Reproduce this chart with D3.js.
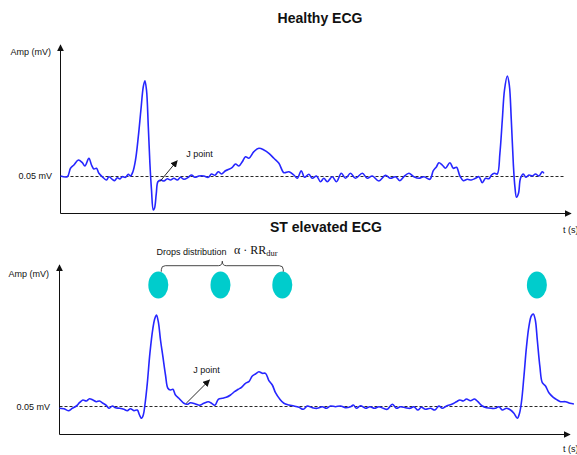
<!DOCTYPE html>
<html>
<head>
<meta charset="utf-8">
<script src="https://cdn.jsdelivr.net/npm/d3@7"></script>
<style>
  html, body { margin: 0; padding: 0; background: #fff; }
  svg { display: block; }
  text { font-family: "Liberation Sans", Arial, Helvetica, sans-serif; fill: #111; }
</style>
</head>
<body>
<script>
// ---------- data ----------
const titles = ["Healthy ECG", "ST elevated ECG"];
const yLabel = "Amp (mV)";
const xLabel = "t (s)";
const baselineValue = 0.05;
const baselineLabel = "0.05 mV";
const jLabel = "J point";
const dropsLabel = "Drops distribution";

// Healthy ECG trace: [time (s), amplitude (mV)]
const healthy = [
  [0,0.05],[0.034,0.043],[0.05,0.127],[0.067,0.16],[0.089,0.21],[0.109,0.183],[0.122,0.15],
  [0.142,0.227],[0.155,0.16],[0.167,0.12],[0.18,0.127],[0.192,0.077],[0.212,0.037],[0.23,0.01],
  [0.242,0.043],[0.259,0.017],[0.27,0.003],[0.284,0.033],[0.297,0.02],[0.309,0.043],[0.325,0.037],
  [0.339,0.067],[0.35,0.05],[0.362,0.093],[0.375,0.21],[0.389,0.443],[0.402,0.71],[0.414,0.943],
  [0.422,1.003],[0.43,0.91],[0.439,0.543],[0.447,0.177],[0.455,-0.09],[0.464,-0.29],[0.47,-0.273],
  [0.479,-0.123],[0.487,-0.007],[0.5,0.01],[0.517,0.0],[0.534,0.023],[0.55,0.01],[0.567,0.027],
  [0.584,0.01],[0.6,0.037],[0.617,0.017],[0.639,0.037],[0.655,0.06],[0.672,0.037],[0.692,0.05],
  [0.717,0.05],[0.739,0.037],[0.755,0.07],[0.772,0.057],[0.789,0.093],[0.805,0.07],[0.825,0.103],
  [0.842,0.117],[0.859,0.137],[0.875,0.17],[0.892,0.15],[0.909,0.193],[0.925,0.243],[0.942,0.227],
  [0.967,0.293],[0.992,0.327],[1.017,0.31],[1.042,0.277],[1.067,0.227],[1.092,0.177],[1.117,0.083],
  [1.142,0.093],[1.167,0.06],[1.184,0.027],[1.204,0.103],[1.22,0.037],[1.242,0.067],[1.259,0.027],
  [1.28,0.05],[1.3,-0.007],[1.317,0.027],[1.334,-0.007],[1.359,0.043],[1.38,-0.007],[1.404,0.077],
  [1.425,0.027],[1.45,0.077],[1.475,0.027],[1.509,0.077],[1.534,0.027],[1.559,0.05],[1.592,0.0],
  [1.625,0.057],[1.65,0.027],[1.675,0.043],[1.697,0.003],[1.717,0.043],[1.742,0.077],[1.767,0.043],
  [1.792,0.027],[1.817,0.043],[1.847,0.017],[1.864,0.103],[1.88,0.143],[1.892,0.183],[1.909,0.16],
  [1.925,0.127],[1.947,0.183],[1.964,0.127],[1.98,0.137],[1.997,0.05],[2.014,0.003],[2.034,0.017],
  [2.054,0.01],[2.075,0.027],[2.092,0.043],[2.109,-0.017],[2.125,0.027],[2.142,0.023],[2.155,0.06],
  [2.17,0.077],[2.184,0.07],[2.197,0.277],[2.209,0.61],[2.22,0.91],[2.234,1.05],[2.244,0.96],
  [2.254,0.61],[2.264,0.177],[2.272,-0.057],[2.28,-0.163],[2.29,-0.123],[2.3,0.027],[2.314,0.07],
  [2.327,0.037],[2.342,0.06],[2.359,0.05],[2.375,0.07],[2.392,0.05],[2.409,0.093],[2.417,0.077]
];

// ST elevated ECG trace: [time (s), amplitude (mV)]
const stElevated = [
  [0,0.027],[0.022,0.023],[0.044,0.003],[0.064,0.027],[0.084,0.05],[0.1,0.083],[0.117,0.11],
  [0.134,0.1],[0.15,0.123],[0.167,0.11],[0.184,0.093],[0.2,0.1],[0.217,0.077],[0.234,0.057],
  [0.247,0.027],[0.264,0.05],[0.28,0.033],[0.3,0.027],[0.322,0.017],[0.339,0.003],[0.355,0.023],
  [0.372,0.003],[0.389,0.01],[0.4,-0.04],[0.41,-0.073],[0.419,-0.04],[0.427,0.06],[0.439,0.277],
  [0.452,0.577],[0.467,0.827],[0.477,0.927],[0.485,0.96],[0.494,0.893],[0.505,0.71],[0.517,0.543],
  [0.53,0.36],[0.542,0.227],[0.555,0.21],[0.567,0.217],[0.58,0.16],[0.597,0.127],[0.622,0.077],
  [0.639,0.067],[0.655,0.083],[0.68,0.07],[0.7,0.057],[0.722,0.077],[0.744,0.093],[0.76,0.077],
  [0.777,0.057],[0.794,0.117],[0.814,0.127],[0.834,0.137],[0.855,0.16],[0.875,0.193],[0.894,0.217],
  [0.91,0.237],[0.93,0.277],[0.947,0.293],[0.964,0.35],[0.98,0.37],[0.997,0.393],[1.014,0.377],
  [1.03,0.377],[1.047,0.303],[1.064,0.26],[1.08,0.183],[1.102,0.117],[1.122,0.077],[1.147,0.06],
  [1.172,0.05],[1.197,0.037],[1.219,0.017],[1.239,0.05],[1.264,0.033],[1.289,0.027],[1.314,0.043],
  [1.335,0.027],[1.355,0.05],[1.38,0.043],[1.405,0.05],[1.43,0.033],[1.455,0.043],[1.469,0.06],
  [1.485,0.027],[1.505,0.053],[1.53,0.027],[1.552,0.043],[1.575,0.027],[1.597,0.043],[1.619,0.027],
  [1.639,0.017],[1.664,0.067],[1.685,0.027],[1.705,0.043],[1.73,0.033],[1.752,0.027],[1.772,0.043],
  [1.792,0.01],[1.809,0.037],[1.83,0.017],[1.855,0.027],[1.877,0.01],[1.897,0.05],[1.914,0.027],
  [1.935,0.05],[1.964,0.07],[1.985,0.093],[2.002,0.11],[2.019,0.1],[2.035,0.12],[2.055,0.103],
  [2.075,0.12],[2.092,0.093],[2.114,0.05],[2.135,0.033],[2.159,0.027],[2.18,0.027],[2.197,0.043],
  [2.214,0.01],[2.235,0.027],[2.255,0.01],[2.272,-0.023],[2.289,-0.073],[2.3,-0.023],[2.31,0.093],
  [2.322,0.343],[2.335,0.643],[2.347,0.843],[2.359,0.95],[2.369,0.97],[2.379,0.91],[2.389,0.71],
  [2.402,0.443],[2.414,0.283],[2.43,0.25],[2.447,0.183],[2.469,0.137],[2.489,0.11],[2.505,0.093],
  [2.53,0.093],[2.552,0.077],[2.572,0.07]
];

// drop times (s)
const dropTimes = [0.494, 0.805, 1.114, 2.387];

// J point annotations: [arrow start t, v], [arrow end t, v], [label t, v]
const jHealthy = [[0.4965, -0.007], [0.5835, 0.203], [0.6285, 0.24]];
const jST = [[0.6335, 0.077], [0.75, 0.31], [0.6685, 0.383]];

// ---------- drawing ----------
const W = 577, H = 455;
const svg = d3.select("body").append("svg").attr("width", W).attr("height", H);

const defs = svg.append("defs");
defs.append("marker").attr("id", "ah").attr("viewBox", "0 0 10 10")
  .attr("refX", 9).attr("refY", 5).attr("markerWidth", 7).attr("markerHeight", 7)
  .attr("markerUnits", "userSpaceOnUse").attr("orient", "auto")
  .append("path").attr("d", "M0,0L10,5L0,10Z").attr("fill", "#111");
defs.append("marker").attr("id", "axh").attr("viewBox", "0 0 10 10")
  .attr("refX", 9).attr("refY", 5).attr("markerWidth", 7).attr("markerHeight", 7)
  .attr("markerUnits", "userSpaceOnUse").attr("orient", "auto")
  .append("path").attr("d", "M0,0L10,5L0,10Z").attr("fill", "#111");

const panels = [
  { data: healthy, title: titles[0], titleX: 320, titleY: 23,
    x: d3.scaleLinear().domain([0, 2.56]).range([60.5, 572.5]),
    y: d3.scaleLinear().domain([-0.325, 1.355]).range([213.5, 45.5]),
    xTip: 571, yTip: 45, ampY: 55, ampRight: 51, baseLabY: 178.5, dashEnd: 2.518,
    tLabX: 563, tLabY: 233, j: jHealthy },
  { data: stElevated, title: titles[1], titleX: 326, titleY: 232,
    x: d3.scaleLinear().domain([0, 2.56]).range([59.5, 571.5]),
    y: d3.scaleLinear().domain([-0.235, 1.455]).range([434.5, 265.5]),
    xTip: 570, yTip: 265, ampY: 276.5, ampRight: 49, baseLabY: 410, dashEnd: 2.515,
    tLabX: 563, tLabY: 451.5, j: jST }
];

panels.forEach((p, i) => {
  const g = svg.append("g");
  const x0 = p.x(0), y0 = p.y.range()[0];

  // title
  g.append("text").attr("x", p.titleX).attr("y", p.titleY).attr("text-anchor", "middle")
    .attr("font-size", 14).attr("font-weight", "bold").text(p.title);

  // axes
  g.append("line").attr("x1", x0).attr("y1", y0).attr("x2", x0).attr("y2", p.yTip)
    .attr("stroke", "#111").attr("stroke-width", 1).attr("marker-end", "url(#axh)");
  g.append("line").attr("x1", x0).attr("y1", y0).attr("x2", p.xTip).attr("y2", y0)
    .attr("stroke", "#111").attr("stroke-width", 1).attr("marker-end", "url(#axh)");

  // axis labels
  g.append("text").attr("x", p.ampRight).attr("y", p.ampY).attr("text-anchor", "end")
    .attr("font-size", 9).text(yLabel);
  g.append("text").attr("x", p.tLabX).attr("y", p.tLabY).attr("font-size", 9).text(xLabel);
  g.append("text").attr("x", p.ampRight + 1).attr("y", p.baseLabY).attr("text-anchor", "end")
    .attr("font-size", 9).text(baselineLabel);

  // baseline dashed
  g.append("line").attr("x1", x0).attr("x2", p.x(p.dashEnd))
    .attr("y1", Math.round(p.y(baselineValue)) + 0.5).attr("y2", Math.round(p.y(baselineValue)) + 0.5)
    .attr("stroke", "#111").attr("stroke-width", 0.9).attr("stroke-dasharray", "3,2");

  // ECG trace
  const line = d3.line().x(d => p.x(d[0])).y(d => p.y(d[1])).curve(d3.curveCatmullRom.alpha(0.5));
  g.append("path").datum(p.data).attr("d", line).attr("fill", "none")
    .attr("stroke", "#2626ff").attr("stroke-width", 1.6).attr("stroke-linejoin", "round");

  // J point annotation
  g.append("line").attr("x1", p.x(p.j[0][0])).attr("y1", p.y(p.j[0][1]))
    .attr("x2", p.x(p.j[1][0])).attr("y2", p.y(p.j[1][1]))
    .attr("stroke", "#111").attr("stroke-width", 0.9).attr("marker-end", "url(#ah)");
  g.append("text").attr("x", p.x(p.j[2][0])).attr("y", p.y(p.j[2][1]))
    .attr("font-size", 9).text(jLabel);

  if (i === 1) {
    const dropY = p.y(1.26);
    g.selectAll("ellipse.drop").data(dropTimes).enter().append("ellipse")
      .attr("class", "drop").attr("cx", d => p.x(d)).attr("cy", dropY)
      .attr("rx", 10).attr("ry", 13.5).attr("fill", "#00cccc");

    // brace over first three drops
    const bx1 = p.x(dropTimes[0]) + 3, bx2 = p.x(dropTimes[2]) + 1;
    const by = dropY - 13.3, top = by - 6, tip = top - 4.5, mid = (bx1 + bx2) / 2;
    const r = 4;
    const bp = `M${bx1},${by} L${bx1},${top + r} Q${bx1},${top} ${bx1 + r},${top} ` +
      `L${mid - r},${top} Q${mid},${top} ${mid},${tip} Q${mid},${top} ${mid + r},${top} ` +
      `L${bx2 - r},${top} Q${bx2},${top} ${bx2},${top + r} L${bx2},${by}`;
    g.append("path").attr("d", bp).attr("fill", "none").attr("stroke", "#333").attr("stroke-width", 0.9);

    g.append("text").attr("x", 156.5).attr("y", 255).attr("font-size", 9).text(dropsLabel);
    const t = g.append("text").attr("x", 234).attr("y", 254)
      .style("font-family", '"Liberation Serif", "Times New Roman", serif').attr("font-size", 12);
    t.append("tspan").text("α · RR");
    t.append("tspan").attr("font-size", 8.5).attr("dy", 1.5).text("dur");
  }
});
</script>
</body>
</html>
